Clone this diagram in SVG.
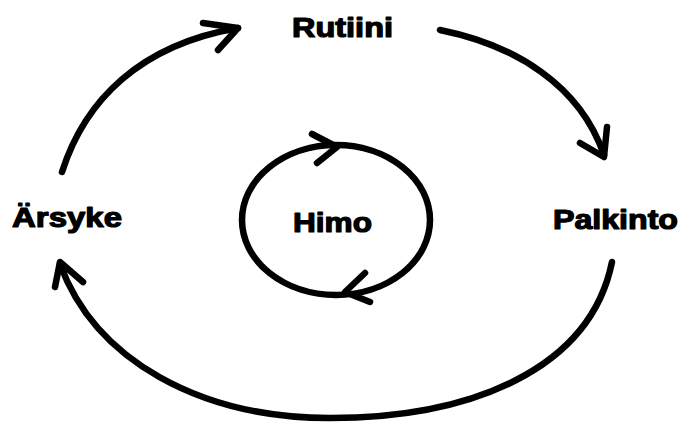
<svg xmlns="http://www.w3.org/2000/svg" width="684" height="426" viewBox="0 0 684 426">
<style>
.ln{fill:none;stroke:#000;stroke-width:6.5;stroke-linecap:round;stroke-linejoin:round}
.lb{font-family:"Liberation Sans",Arial,sans-serif;font-weight:bold;font-size:27px;fill:#000;stroke:#000;stroke-width:1.2;stroke-linejoin:round}
</style>
<rect width="684" height="426" fill="#fff"/>
<g id="connectors">
<path class="ln" d="M62,172 C85,100 140,45 238,28"/>
<polyline class="ln" points="203,23 238,28 218,50"/>
<path class="ln" d="M440,30 C515,45 580,85 604,155"/>
<polyline class="ln" points="580,143 604,157 607,127"/>
<path class="ln" d="M612,262 C590,370 470,418 330,418 C200,418 95,360 60,264"/>
<polyline class="ln" points="55,287 60,262 83,282"/>
</g>
<g id="himo-cycle">
<ellipse class="ln" cx="336" cy="220" rx="94" ry="75"/>
<polyline class="ln" points="312,134 337,147 317,163"/>
<polyline class="ln" points="365,273 345,292 370,302"/>
</g>
<g id="rutiini"><text class="lb" x="292" y="37" textLength="101" lengthAdjust="spacingAndGlyphs">Rutiini</text></g>
<g id="arsyke"><text class="lb" x="12" y="227" textLength="110" lengthAdjust="spacingAndGlyphs">Ärsyke</text></g>
<g id="palkinto"><text class="lb" x="553" y="229" textLength="125" lengthAdjust="spacingAndGlyphs">Palkinto</text></g>
<g id="himo"><text class="lb" x="293" y="232" textLength="79" lengthAdjust="spacingAndGlyphs">Himo</text></g>
</svg>
